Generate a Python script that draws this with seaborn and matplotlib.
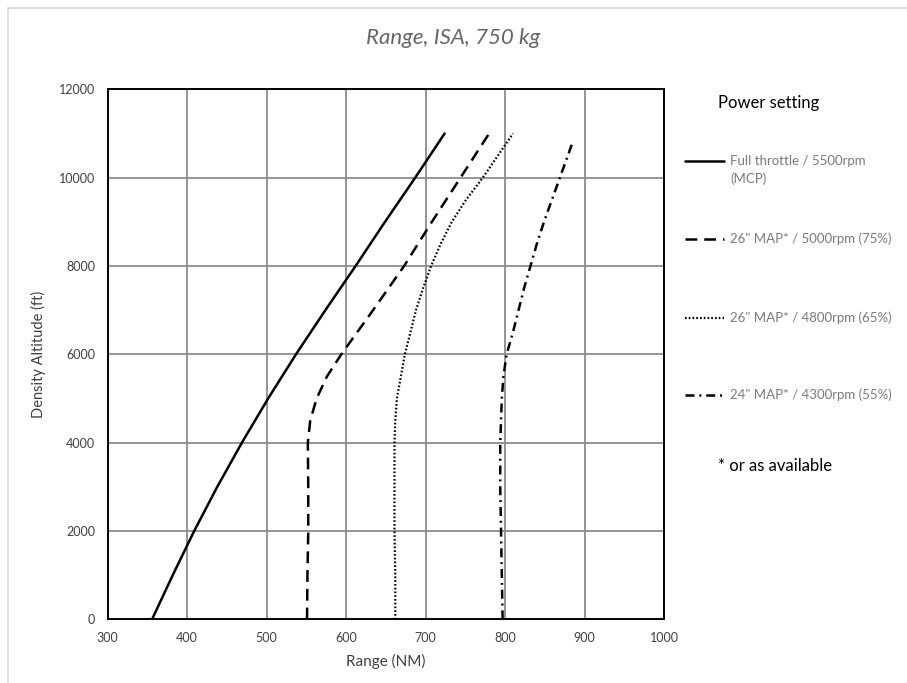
import matplotlib
matplotlib.use("Agg")
import matplotlib.pyplot as plt
from matplotlib.lines import Line2D
from matplotlib.patches import Rectangle
import pandas as pd
import seaborn as sns

# Density altitude (ft) against still-air range (NM) for each power setting
alt_full = [0, 1000, 2000, 3000, 4000, 5000, 6000, 7000, 8000, 9000, 10000, 11000]
range_full = [356, 382, 409, 438, 469, 502, 537, 574, 612, 649, 687, 724]

alt_75 = [0, 1000, 2000, 3000, 4000, 4500, 5000, 5500, 6000, 6500, 7000, 8000, 9000, 10000, 11000]
range_75 = [551, 551.5, 552.5, 552.5, 552, 555, 563, 576, 594, 614, 634, 673, 708, 744, 780]

alt_65 = [0, 1000, 2000, 3000, 4000, 4500, 5000, 5500, 6000, 6500, 7000, 7500, 8000, 8500,
          9000, 9500, 10000, 10500, 11000]
range_65 = [662, 662, 661, 661, 661, 662, 664, 669, 674, 681, 688, 697, 707, 719,
            733, 751, 772, 791, 810]

alt_55 = [0, 1000, 2000, 3000, 4000, 5000, 5500, 6000, 6500, 7000, 7500, 8000, 8500, 9000,
          9500, 10000, 10800]
range_55 = [797, 796, 795, 794, 794, 796, 798, 802, 810, 817, 824, 832, 840, 849,
            859, 869, 885]

series_labels = ["Full throttle / 5500rpm\n(MCP)",
                 '26" MAP* / 5000rpm (75%)',
                 '26" MAP* / 4800rpm (65%)',
                 '24" MAP* / 4300rpm (55%)']

x_ticks = [300, 400, 500, 600, 700, 800, 900, 1000]
y_ticks = [0, 2000, 4000, 6000, 8000, 10000, 12000]

sns.set_style("white")
plt.rcParams["font.family"] = ["Lato", "DejaVu Sans"]
plt.rcParams["lines.scale_dashes"] = False

TICK_COL = "#404040"
LEG_COL = "#7a7a7a"

fig = plt.figure(figsize=(9.07, 6.83), dpi=100)
ax = fig.add_axes([107.5 / 907, 1 - 619.4 / 683, (664 - 107.5) / 907, (619.4 - 89.4) / 683])

styles = [
    dict(linestyle="-", linewidth=1.8),
    dict(linestyle=(0, (8.5, 5.0)), linewidth=1.8),
    dict(linestyle=(0, (1.2, 1.5)), linewidth=1.6),
    dict(linestyle=(0, (6.5, 3.5, 1.4, 3.5)), linewidth=1.8),
]

data = [(range_full, alt_full), (range_75, alt_75), (range_65, alt_65), (range_55, alt_55)]
for (rng, alt), st in zip(data, styles):
    df = pd.DataFrame({"Range (NM)": rng, "Density Altitude (ft)": alt})
    sns.lineplot(data=df, x="Range (NM)", y="Density Altitude (ft)", ax=ax,
                 sort=False, estimator=None, color="black", **st)

ax.set_xlim(300, 1000)
ax.set_ylim(0, 12000)
ax.set_xticks(x_ticks)
ax.set_yticks(y_ticks)
ax.grid(True, color="#8c8c8c", linewidth=1.3)
ax.set_axisbelow(True)
for sp in ax.spines.values():
    sp.set_visible(True)
    sp.set_color("black")
    sp.set_linewidth(1.4)
ax.tick_params(length=0, labelsize=9, colors=TICK_COL, pad=9)
ax.set_xlabel("Range (NM)", fontsize=11, color=TICK_COL, labelpad=7)
ax.set_ylabel("Density Altitude (ft)", fontsize=10.5, color=TICK_COL, labelpad=9)

# chart title
fig.text(453 / 907, 1 - 38 / 683, "Range, ISA, 750 kg", ha="center", va="center",
         fontsize=16, style="italic", color="#666666")

# chart-area border
fig.patches.append(Rectangle((8 / 907, -0.05), 1.2, 1 - 8 / 683 + 0.05, transform=fig.transFigure,
                             fill=False, edgecolor="#d9d9d9", linewidth=1.2))

# legend block on the right
fig.text(718 / 907, 1 - 103 / 683, "Power setting", ha="left", va="center",
         fontsize=12, color="black")
entry_y = [161, 239, 318, 395]
for y, st, lab in zip(entry_y, styles, series_labels):
    yf = 1 - y / 683
    fig.add_artist(Line2D([685 / 907, 724 / 907], [yf, yf], transform=fig.transFigure,
                          color="black", **st))
    fig.text(730 / 907, yf + 6 / 683 if "\n" in lab else yf, lab, ha="left",
             va="top" if "\n" in lab else "center", fontsize=9.5, color=LEG_COL,
             linespacing=1.55)
fig.text(718 / 907, 1 - 466 / 683, "* or as available", ha="left", va="center",
         fontsize=12, color="black")

fig.savefig("out.png", dpi=100, facecolor="white")
